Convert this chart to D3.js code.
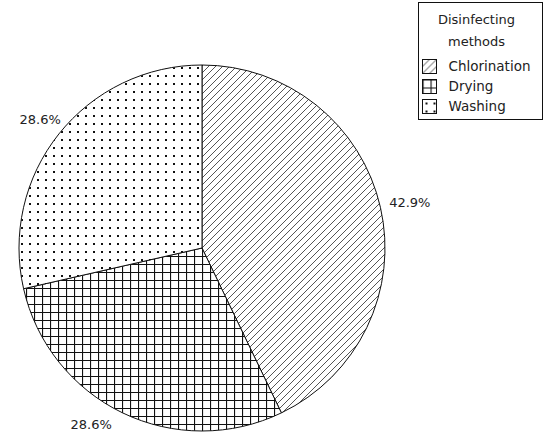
<!DOCTYPE html>
<html>
<head>
<meta charset="utf-8">
<script src="https://cdn.jsdelivr.net/npm/d3@7"></script>
<style>
  body { margin: 0; background: #fff; }
  text { font-family: 'DejaVu Sans', sans-serif; font-size: 13px; fill: #222; }
  .item text { font-size: 13.5px; }
</style>
</head>
<body>
<div id="chart"></div>
<script>
// DATA ------------------------
const categories = ['Chlorination', 'Drying', 'Washing'];
const values = [3, 2, 2];
const legendTitle = ['Disinfecting', 'methods'];

const w = 545;
const h = 433;
const cx = 202;
const cy = 248;
const r = 183;

const svg = d3.select('#chart').append('svg').attr('width', w).attr('height', h);

// PATTERNS --------------------
const defs = svg.append('defs');

const hatch = defs.append('pattern')
  .attr('id', 'p-hatch')
  .attr('patternUnits', 'userSpaceOnUse')
  .attr('width', 7).attr('height', 7);
hatch.append('rect').attr('width', 7).attr('height', 7).attr('fill', '#fff');
hatch.append('path')
  .attr('d', 'M0,7 L7,0 M-1,1 L1,-1 M6,8 L8,6')
  .attr('stroke', '#555').attr('stroke-width', 1);

const grid = defs.append('pattern')
  .attr('id', 'p-grid')
  .attr('patternUnits', 'userSpaceOnUse')
  .attr('width', 8).attr('height', 8);
grid.append('rect').attr('width', 8).attr('height', 8).attr('fill', '#fff');
grid.append('path')
  .attr('d', 'M0.5,0 V8 M0,0.5 H8')
  .attr('stroke', '#111').attr('stroke-width', 1.2);

const dots = defs.append('pattern')
  .attr('id', 'p-dots')
  .attr('patternUnits', 'userSpaceOnUse')
  .attr('width', 8).attr('height', 8);
dots.append('rect').attr('width', 8).attr('height', 8).attr('fill', '#fff');
dots.append('rect').attr('x', 3).attr('y', 3).attr('width', 2).attr('height', 2).attr('fill', '#111');

const fills = d3.scaleOrdinal()
  .domain(categories)
  .range(['url(#p-hatch)', 'url(#p-grid)', 'url(#p-dots)']);

// PIE -------------------------
const total = d3.sum(values);
const data = categories.map((c, i) => ({ name: c, value: values[i] }));
const pie = d3.pie().sort(null).value((d) => d.value);
const arc = d3.arc().innerRadius(0).outerRadius(r);
const labelArc = d3.arc().innerRadius(207).outerRadius(207);

const g = svg.append('g').attr('transform', `translate(${cx}, ${cy})`);
const arcs = pie(data);

g.selectAll('path.slice')
  .data(arcs)
  .enter()
  .append('path')
  .attr('class', 'slice')
  .attr('d', arc)
  .attr('fill', (d) => fills(d.data.name))
  .attr('stroke', '#111')
  .attr('stroke-width', 1);

// keep labels inside the window: push outward in x when clamped in y
const labelPos = (d) => {
  let [x, y] = labelArc.centroid(d);
  const maxY = h - cy - 9;
  if (y > maxY) {
    x += Math.sign(x) * (y - maxY) * 2;
    y = maxY;
  }
  if (x > 0) x += 6;
  return [x, y];
};

g.selectAll('text.pct')
  .data(arcs)
  .enter()
  .append('text')
  .attr('class', 'pct')
  .attr('transform', (d) => `translate(${labelPos(d)})`)
  .attr('text-anchor', 'middle')
  .attr('dy', '0.35em')
  .text((d) => (d.data.value / total * 100).toFixed(1) + '%');

// LEGEND ----------------------
const lg = svg.append('g').attr('transform', 'translate(418.5, 2.5)');
lg.append('rect').attr('width', 124).attr('height', 117)
  .attr('fill', '#fff').attr('stroke', '#111');

lg.selectAll('text.title')
  .data(legendTitle)
  .enter()
  .append('text')
  .attr('class', 'title')
  .attr('x', 58)
  .attr('y', (d, i) => 21 + i * 22)
  .attr('text-anchor', 'middle')
  .text((d) => d);

const items = lg.selectAll('g.item')
  .data(categories)
  .enter()
  .append('g')
  .attr('class', 'item')
  .attr('transform', (d, i) => `translate(4, ${57 + i * 20})`);

items.append('rect')
  .attr('width', 14).attr('height', 14)
  .attr('fill', (d) => fills(d))
  .attr('stroke', '#111');

items.append('text')
  .attr('x', 26)
  .attr('y', 7)
  .attr('dy', '0.35em')
  .text((d) => d);
</script>
</body>
</html>
